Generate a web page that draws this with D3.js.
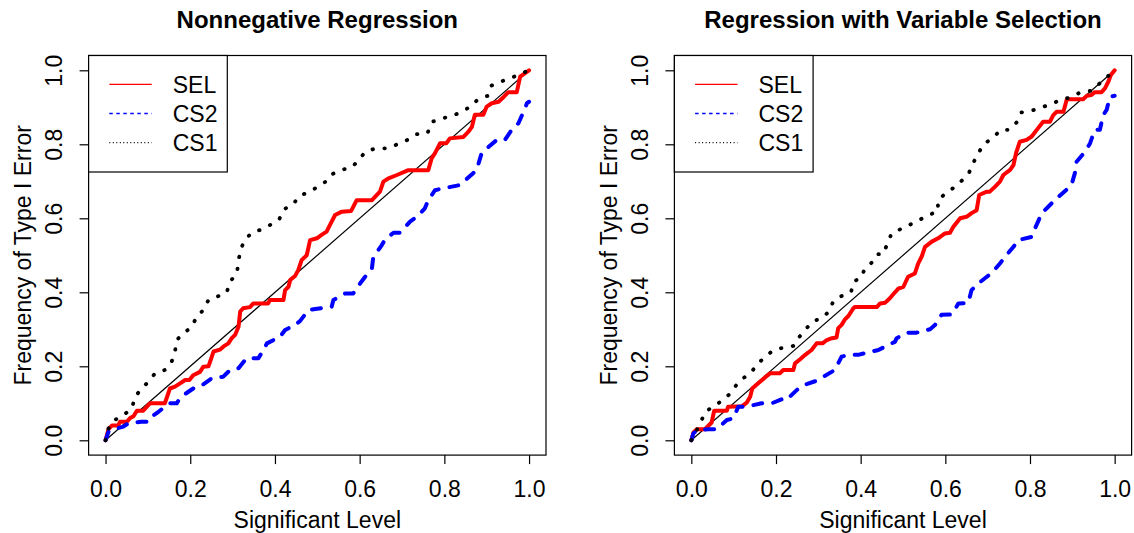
<!DOCTYPE html>
<html>
<head>
<meta charset="utf-8">
<script src="https://cdn.jsdelivr.net/npm/d3@7"></script>
<style>
  body { margin: 0; background: #fff; }
  svg { display: block; font-family: "Liberation Sans", Arial, Helvetica, sans-serif; }
</style>
</head>
<body>
<div id="chart"></div>
<script>
// tick labels shared by both panels
const tickValues = [0, 0.2, 0.4, 0.6, 0.8, 1.0];
const legendLabels = ["SEL", "CS2", "CS1"];
const panelTitles = ["Nonnegative Regression", "Regression with Variable Selection"];

// reference diagonal
const diagonal = [[0, 0], [1, 1]];

// left panel: nonnegative regression, [significant level, frequency]
const nonnegSEL = [[0,0],[0.007,0.03],[0.015,0.04],[0.03,0.04],[0.034,0.05],[0.05,0.05],[0.058,0.06],[0.066,0.065],[0.074,0.08],[0.089,0.08],[0.101,0.095],[0.105,0.1],[0.14,0.1],[0.152,0.14],[0.164,0.145],[0.176,0.154],[0.188,0.163],[0.198,0.163],[0.207,0.176],[0.223,0.185],[0.231,0.199],[0.243,0.2],[0.251,0.226],[0.255,0.24],[0.27,0.245],[0.278,0.253],[0.29,0.262],[0.298,0.276],[0.306,0.285],[0.314,0.307],[0.318,0.348],[0.325,0.357],[0.341,0.36],[0.349,0.37],[0.384,0.37],[0.388,0.379],[0.42,0.379],[0.424,0.406],[0.432,0.415],[0.436,0.433],[0.448,0.445],[0.455,0.46],[0.463,0.487],[0.475,0.5],[0.483,0.541],[0.499,0.546],[0.51,0.555],[0.522,0.564],[0.53,0.582],[0.542,0.609],[0.558,0.618],[0.58,0.62],[0.593,0.649],[0.629,0.649],[0.648,0.672],[0.656,0.699],[0.668,0.708],[0.688,0.717],[0.715,0.73],[0.762,0.73],[0.77,0.762],[0.778,0.776],[0.79,0.803],[0.805,0.803],[0.813,0.816],[0.845,0.82],[0.857,0.834],[0.865,0.847],[0.872,0.88],[0.892,0.88],[0.9,0.902],[0.912,0.911],[0.928,0.915],[0.94,0.928],[0.951,0.941],[0.971,0.941],[0.979,0.983],[1,1]];
const nonnegCS2 = [[0,0],[0.007,0.023],[0.02,0.03],[0.042,0.037],[0.054,0.046],[0.084,0.05],[0.101,0.05],[0.109,0.064],[0.125,0.077],[0.14,0.091],[0.152,0.1],[0.168,0.1],[0.176,0.114],[0.184,0.122],[0.207,0.14],[0.223,0.145],[0.251,0.168],[0.278,0.172],[0.294,0.19],[0.314,0.195],[0.333,0.222],[0.361,0.222],[0.373,0.244],[0.381,0.262],[0.412,0.28],[0.424,0.298],[0.447,0.312],[0.459,0.322],[0.479,0.352],[0.495,0.355],[0.534,0.361],[0.538,0.379],[0.566,0.397],[0.585,0.397],[0.601,0.424],[0.613,0.442],[0.629,0.465],[0.632,0.494],[0.652,0.527],[0.66,0.543],[0.68,0.561],[0.695,0.561],[0.719,0.591],[0.735,0.604],[0.754,0.627],[0.762,0.649],[0.778,0.676],[0.798,0.681],[0.837,0.69],[0.868,0.722],[0.876,0.73],[0.888,0.776],[0.9,0.789],[0.924,0.812],[0.943,0.812],[0.959,0.839],[0.975,0.857],[0.987,0.888],[0.995,0.911],[1,0.915]];
const nonnegCS1 = [[0,0],[0.007,0.032],[0.022,0.055],[0.042,0.068],[0.062,0.086],[0.07,0.118],[0.085,0.14],[0.101,0.158],[0.117,0.181],[0.14,0.19],[0.156,0.212],[0.164,0.24],[0.168,0.271],[0.184,0.289],[0.204,0.307],[0.215,0.334],[0.231,0.352],[0.243,0.379],[0.263,0.388],[0.286,0.399],[0.294,0.429],[0.31,0.451],[0.314,0.483],[0.318,0.514],[0.329,0.541],[0.345,0.561],[0.369,0.57],[0.392,0.584],[0.41,0.597],[0.421,0.624],[0.443,0.638],[0.458,0.661],[0.481,0.671],[0.501,0.685],[0.521,0.7],[0.536,0.72],[0.559,0.731],[0.583,0.739],[0.599,0.76],[0.614,0.78],[0.638,0.789],[0.665,0.789],[0.689,0.8],[0.713,0.812],[0.733,0.827],[0.76,0.83],[0.772,0.861],[0.795,0.87],[0.819,0.877],[0.841,0.888],[0.862,0.902],[0.878,0.92],[0.902,0.931],[0.91,0.958],[0.932,0.969],[0.955,0.978],[0.979,0.99],[1,1]];

// right panel: regression with variable selection
const varselSEL = [[0,0],[0.005,0.021],[0.013,0.03],[0.032,0.03],[0.048,0.048],[0.054,0.08],[0.084,0.08],[0.087,0.091],[0.119,0.092],[0.131,0.102],[0.139,0.118],[0.144,0.14],[0.158,0.154],[0.174,0.17],[0.186,0.181],[0.209,0.181],[0.217,0.19],[0.241,0.19],[0.245,0.208],[0.257,0.219],[0.269,0.231],[0.284,0.244],[0.296,0.262],[0.31,0.262],[0.32,0.271],[0.332,0.276],[0.343,0.278],[0.347,0.303],[0.355,0.312],[0.363,0.327],[0.371,0.336],[0.383,0.357],[0.386,0.36],[0.438,0.36],[0.446,0.37],[0.458,0.372],[0.469,0.384],[0.481,0.4],[0.489,0.41],[0.501,0.415],[0.512,0.442],[0.528,0.451],[0.536,0.478],[0.544,0.496],[0.552,0.523],[0.568,0.537],[0.583,0.546],[0.599,0.559],[0.611,0.561],[0.619,0.577],[0.635,0.6],[0.65,0.604],[0.662,0.614],[0.674,0.622],[0.68,0.663],[0.698,0.672],[0.705,0.672],[0.717,0.685],[0.729,0.699],[0.737,0.717],[0.753,0.731],[0.761,0.744],[0.767,0.776],[0.776,0.807],[0.792,0.812],[0.804,0.821],[0.816,0.839],[0.831,0.861],[0.847,0.861],[0.855,0.879],[0.863,0.888],[0.879,0.888],[0.887,0.922],[0.926,0.922],[0.934,0.931],[0.945,0.933],[0.953,0.941],[0.969,0.941],[0.977,0.951],[0.985,0.969],[0.991,0.987],[1,1]];
const varselCS2 = [[0,0],[0.005,0.019],[0.013,0.026],[0.04,0.03],[0.06,0.03],[0.084,0.055],[0.099,0.059],[0.111,0.091],[0.131,0.091],[0.166,0.1],[0.19,0.1],[0.214,0.111],[0.229,0.111],[0.233,0.118],[0.253,0.14],[0.265,0.149],[0.296,0.161],[0.312,0.172],[0.339,0.19],[0.347,0.208],[0.355,0.226],[0.371,0.231],[0.394,0.231],[0.426,0.24],[0.442,0.244],[0.473,0.262],[0.481,0.266],[0.485,0.276],[0.509,0.291],[0.532,0.291],[0.564,0.3],[0.576,0.312],[0.591,0.339],[0.615,0.34],[0.631,0.37],[0.654,0.371],[0.662,0.406],[0.678,0.424],[0.698,0.442],[0.709,0.451],[0.729,0.478],[0.741,0.496],[0.761,0.523],[0.772,0.541],[0.804,0.55],[0.812,0.573],[0.828,0.614],[0.855,0.645],[0.863,0.654],[0.887,0.678],[0.898,0.69],[0.906,0.722],[0.91,0.753],[0.93,0.78],[0.942,0.803],[0.953,0.839],[0.965,0.839],[0.973,0.879],[0.981,0.893],[0.989,0.929],[1,0.931]];
const varselCS1 = [[0,0],[0.013,0.028],[0.023,0.052],[0.035,0.079],[0.056,0.093],[0.076,0.111],[0.093,0.127],[0.106,0.149],[0.123,0.168],[0.141,0.183],[0.156,0.206],[0.172,0.223],[0.191,0.241],[0.215,0.25],[0.241,0.255],[0.254,0.278],[0.27,0.3],[0.286,0.321],[0.308,0.33],[0.326,0.349],[0.335,0.375],[0.355,0.39],[0.377,0.4],[0.385,0.43],[0.401,0.439],[0.41,0.465],[0.426,0.48],[0.439,0.503],[0.453,0.503],[0.463,0.531],[0.473,0.559],[0.493,0.57],[0.515,0.582],[0.538,0.595],[0.56,0.609],[0.582,0.618],[0.583,0.649],[0.602,0.669],[0.623,0.685],[0.642,0.705],[0.656,0.723],[0.666,0.75],[0.678,0.776],[0.691,0.801],[0.711,0.816],[0.731,0.839],[0.75,0.839],[0.77,0.861],[0.779,0.886],[0.804,0.891],[0.828,0.9],[0.851,0.909],[0.872,0.92],[0.896,0.927],[0.92,0.941],[0.946,0.945],[0.963,0.963],[0.981,0.981],[1,1]];

const W = 1134, H = 533;
const FONT = 23;

// line styles (R: SEL solid red, CS2 dashed blue, CS1 dotted black, all lwd 3)
const styles = [
  { color: "#ff0000", width: 4, dash: null, cap: "round", legendDash: null },
  { color: "#0000ff", width: 4, dash: "9 11", cap: "round", legendDash: "3.5 3.5" },
  { color: "#000000", width: 3.8, dash: "0.5 11.5", cap: "round", legendDash: "1 2.5" }
];

const svg = d3.select("#chart").append("svg").attr("width", W).attr("height", H);

const drawPanel = (left, right, title, series) => {
  let top = 55.5, bottom = 455.1;
  // R pads the axis range by 4% on each side
  let x = d3.scaleLinear().domain([-0.04, 1.04]).range([left, right]);
  let y = d3.scaleLinear().domain([-0.04, 1.04]).range([bottom, top]);
  let g = svg.append("g");

  let line = d3.line().x(d => x(d[0])).y(d => y(d[1]));

  // diagonal reference
  g.append("path").attr("d", line(diagonal))
    .attr("fill", "none").attr("stroke", "#000").attr("stroke-width", 1.2);

  series.forEach((s, i) => {
    let st = styles[i];
    g.append("path").attr("d", line(s))
      .attr("fill", "none")
      .attr("stroke", st.color)
      .attr("stroke-width", st.width)
      .attr("stroke-linejoin", "round")
      .attr("stroke-linecap", st.cap)
      .attr("stroke-dasharray", st.dash);
  });

  // x axis
  let xAxis = g.append("g").attr("transform", `translate(0,${bottom})`)
    .call(d3.axisBottom(x).tickValues(tickValues).tickSize(9).tickPadding(17).tickFormat(d3.format(".1f")));
  xAxis.select(".domain").remove();
  xAxis.selectAll("line").attr("stroke", "#000").attr("stroke-width", 1.2);
  xAxis.selectAll("text").attr("font-size", FONT).attr("font-family", null).attr("fill", "#000");

  // y axis, labels turned like R (las = 0)
  let yAxis = g.append("g").attr("transform", `translate(${left},0)`)
    .call(d3.axisLeft(y).tickValues(tickValues).tickSize(9).tickFormat(d3.format(".1f")));
  yAxis.select(".domain").remove();
  yAxis.selectAll("line").attr("stroke", "#000").attr("stroke-width", 1.2);
  yAxis.selectAll("text")
    .attr("font-size", FONT).attr("font-family", null).attr("fill", "#000")
    .attr("text-anchor", "middle")
    .attr("x", 0).attr("y", -26.6)
    .attr("dy", null)
    .attr("transform", "rotate(-90)");

  // plot box
  g.append("rect").attr("x", left).attr("y", top)
    .attr("width", right - left).attr("height", bottom - top)
    .attr("fill", "none").attr("stroke", "#000").attr("stroke-width", 1.2);

  // titles
  let cx = (left + right) / 2;
  g.append("text").attr("x", cx).attr("y", 27.5).attr("text-anchor", "middle")
    .attr("font-size", 24).attr("font-weight", "bold").text(title);
  g.append("text").attr("x", cx).attr("y", 528).attr("text-anchor", "middle")
    .attr("font-size", FONT).text("Significant Level");
  g.append("text").attr("transform", `translate(${left - 57.6},${(top + bottom) / 2}) rotate(-90)`)
    .attr("text-anchor", "middle").attr("font-size", FONT).text("Frequency of Type I Error");

  // legend in top-left corner
  let lg = g.append("g").attr("transform", `translate(${left},${top})`);
  lg.append("rect").attr("width", 138.7).attr("height", 116.5)
    .attr("fill", "#fff").attr("stroke", "#000").attr("stroke-width", 1.2);
  legendLabels.forEach((lab, i) => {
    let st = styles[i];
    let ry = 28.8 + i * 29.2;
    lg.append("line").attr("x1", 20.7).attr("x2", 63.1).attr("y1", ry).attr("y2", ry)
      .attr("stroke", st.color).attr("stroke-width", 1.3)
      .attr("stroke-dasharray", st.legendDash);
    lg.append("text").attr("x", 84.1).attr("y", ry + 8.2)
      .attr("font-size", FONT).text(lab);
  });
};

drawPanel(88.6, 546, panelTitles[0], [nonnegSEL, nonnegCS2, nonnegCS1]);
drawPanel(674.4, 1131.6, panelTitles[1], [varselSEL, varselCS2, varselCS1]);
</script>
</body>
</html>
